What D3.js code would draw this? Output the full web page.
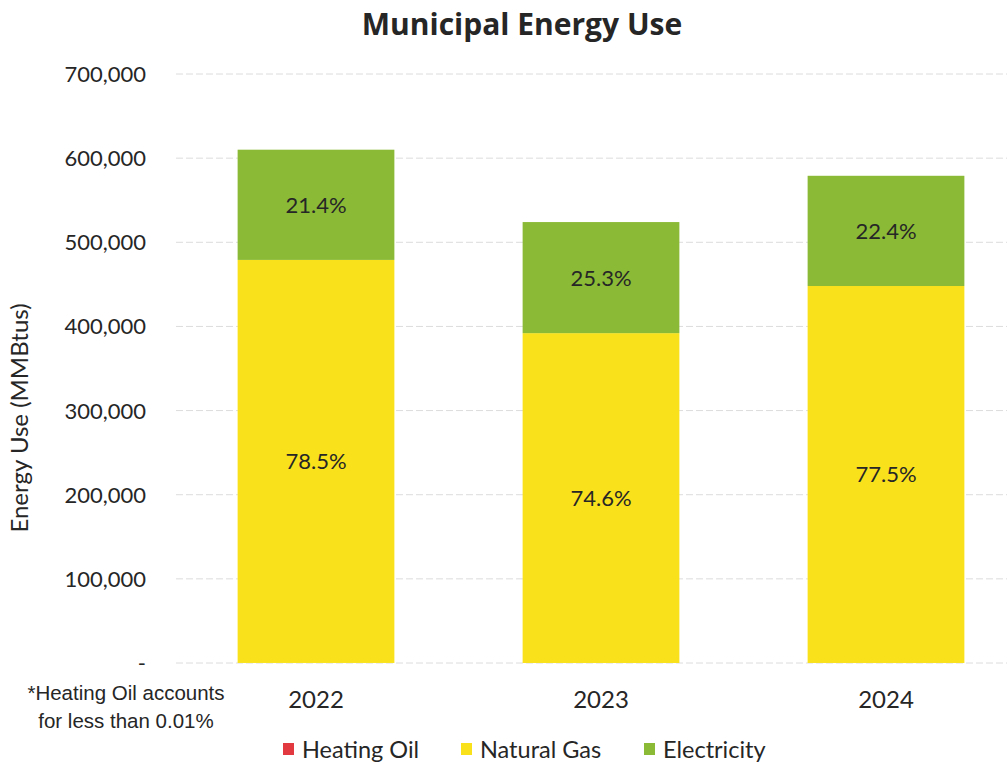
<html>
<head>
<meta charset="utf-8">
<style>
body { margin: 0; background: #ffffff; }
svg text { fill: #262626; }
</style>
</head>
<body>
<div id="chart"></div>
<script src="https://d3js.org/d3.v7.min.js"></script>
<script>
// chart values
var years = ["2022", "2023", "2024"];
var heatingOil = [40, 30, 35];
var naturalGas = [479000, 392000, 448000];
var electricity = [131000, 132000, 131000];
var gasLabels = ["78.5%", "74.6%", "77.5%"];
var elecLabels = ["21.4%", "25.3%", "22.4%"];
var yTicks = [0, 100000, 200000, 300000, 400000, 500000, 600000, 700000];
var seriesNames = ["Heating Oil", "Natural Gas", "Electricity"];
var seriesColors = ["#e2383f", "#f9e11c", "#8bbb36"];

var W = 1007, H = 766;
var svg = d3.select("#chart").append("svg")
  .attr("width", W).attr("height", H);

var x = d3.scaleBand().domain(years)
  .range([173.5, 1028.5]).paddingInner(0.45).paddingOuter(0.225);
var y = d3.scaleLinear().domain([0, 700000]).range([663, 74]);

// title
svg.append("text")
  .attr("x", 522).attr("y", 35)
  .attr("text-anchor", "middle")
  .style("font-family", "Open Sans, sans-serif")
  .style("font-weight", "bold")
  .style("font-size", "30px")
  .text("Municipal Energy Use");

// gridlines
svg.append("g").selectAll("line")
  .data(yTicks).enter().append("line")
  .attr("x1", 176).attr("x2", W)
  .attr("y1", function(d){ return y(d); })
  .attr("y2", function(d){ return y(d); })
  .style("stroke", "#dcdcdc")
  .style("stroke-width", 1)
  .style("stroke-dasharray", "7,3");

// y tick labels
svg.append("g").selectAll("text")
  .data(yTicks).enter().append("text")
  .attr("x", 146)
  .attr("y", function(d){ return y(d) + 8; })
  .attr("text-anchor", "end")
  .style("font-family", "Lato, sans-serif")
  .style("font-size", "22px")
  .text(function(d){ return d == 0 ? "-" : d3.format(",")(d); });

// y axis title
svg.append("text")
  .attr("transform", "translate(28,418) rotate(-90)")
  .attr("text-anchor", "middle")
  .style("font-family", "Lato, sans-serif")
  .style("font-size", "24px")
  .text("Energy Use (MMBtus)");

// stacked bars
var rows = years.map(function(yr, i){
  return { year: yr, "Heating Oil": heatingOil[i], "Natural Gas": naturalGas[i], "Electricity": electricity[i] };
});
var stack = d3.stack().keys(seriesNames)(rows);

svg.append("g").selectAll("g")
  .data(stack).enter().append("g")
  .style("fill", function(d, i){ return seriesColors[i]; })
  .selectAll("rect")
  .data(function(d){ return d; }).enter().append("rect")
  .attr("x", function(d){ return x(d.data.year); })
  .attr("width", x.bandwidth())
  .attr("y", function(d){ return y(d[1]); })
  .attr("height", function(d){ return y(d[0]) - y(d[1]); });

// segment labels
var gasSeg = stack[1], elecSeg = stack[2];
svg.append("g").selectAll("text")
  .data(years).enter().append("text")
  .attr("x", function(d){ return x(d) + x.bandwidth()/2; })
  .attr("y", function(d, i){ return (y(gasSeg[i][0]) + y(gasSeg[i][1]))/2 + 8; })
  .attr("text-anchor", "middle")
  .style("font-family", "Lato, sans-serif")
  .style("font-size", "22px")
  .text(function(d, i){ return gasLabels[i]; });

svg.append("g").selectAll("text")
  .data(years).enter().append("text")
  .attr("x", function(d){ return x(d) + x.bandwidth()/2; })
  .attr("y", function(d, i){ return (y(elecSeg[i][0]) + y(elecSeg[i][1]))/2 + 8; })
  .attr("text-anchor", "middle")
  .style("font-family", "Lato, sans-serif")
  .style("font-size", "22px")
  .text(function(d, i){ return elecLabels[i]; });

// x labels
svg.append("g").selectAll("text")
  .data(years).enter().append("text")
  .attr("x", function(d){ return x(d) + x.bandwidth()/2; })
  .attr("y", 708)
  .attr("text-anchor", "middle")
  .style("font-family", "Lato, sans-serif")
  .style("font-size", "24px")
  .text(function(d){ return d; });

// footnote
var note = svg.append("text")
  .attr("text-anchor", "middle")
  .style("font-family", "Liberation Sans, Arial, sans-serif")
  .style("font-size", "20.5px");
note.append("tspan").attr("x", 126).attr("y", 700).text("*Heating Oil accounts");
note.append("tspan").attr("x", 126).attr("y", 728).text("for less than 0.01%");

// legend
var legX = [283, 461, 644];
var leg = svg.append("g").selectAll("g")
  .data(seriesNames).enter().append("g")
  .attr("transform", function(d, i){ return "translate(" + legX[i] + ",750)"; });
leg.append("rect")
  .attr("x", 0).attr("y", -7).attr("width", 11).attr("height", 12)
  .style("fill", function(d, i){ return seriesColors[i]; });
leg.append("text")
  .attr("x", 19).attr("y", 8)
  .style("font-family", "Lato, sans-serif")
  .style("font-size", "23.5px")
  .text(function(d){ return d; });
</script>
</body>
</html>
